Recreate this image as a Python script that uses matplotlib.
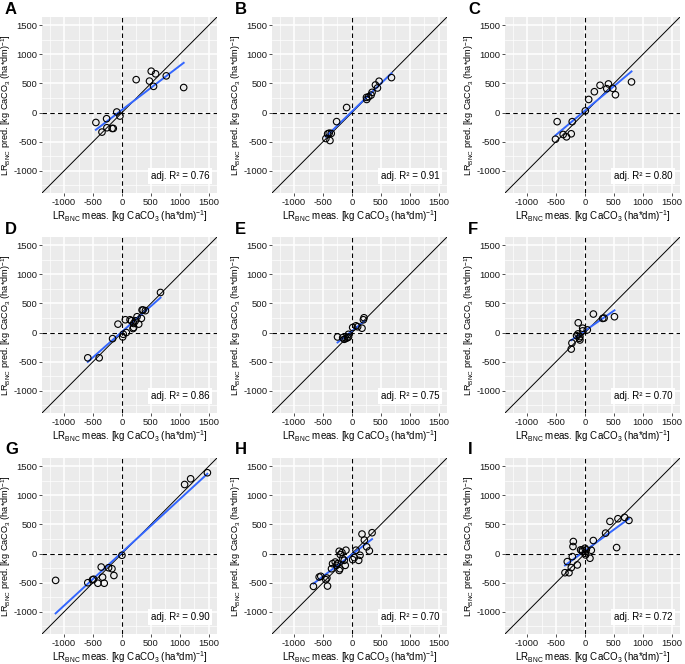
import matplotlib
matplotlib.use("Agg")
import matplotlib.pyplot as plt
import numpy as np
from matplotlib.ticker import MultipleLocator

plt.rcParams["font.family"] = ["Liberation Sans", "DejaVu Sans"]
plt.rcParams["mathtext.default"] = "regular"
plt.rcParams["axes.unicode_minus"] = False

a_x = [-450, -265, -345, -260, -170, -150, -90, -35, 245, 505, 580, 475, 545, 765, 1065]
a_y = [-170, -105, -335, -260, -272, -272, 10, -60, 565, 710, 665, 540, 450, 630, 430]

b_x = [-450, -420, -393, -358, -380, -265, -92, 250, 254, 289, 330, 347, 405, 440, 468, 682]
b_y = [-445, -365, -353, -358, -480, -155, 87, 260, 225, 272, 300, 347, 474, 422, 538, 600]

c_x = [-509, -480, -376, -318, -237, -220, 6, 64, 162, 260, 405, 376, 480, 526, 803]
c_y = [-457, -156, -376, -416, -364, -156, 29, 225, 358, 468, 491, 410, 416, 306, 526]

d_x = [-590, -393, -162, -69, 12, 23, 75, 58, 139, 162, 202, 191, 202, 231, 260, 289, 335, 347, 364, 405, 665]
d_y = [-433, -433, -104, 145, -75, -29, 0, 220, 220, 202, 156, 69, 87, 202, 272, 145, 243, 387, 387, 376, 688]

e_x = [-249, -160, -133, -104, -75, -58, -60, 12, 69, 98, 173, 197, 208]
e_y = [-75, -87, -115, -100, -87, -75, -30, 87, 116, 100, 75, 220, 254]

f_x = [-237, -225, -116, -145, -121, -87, -98, -87, -40, -40, 40, 145, 306, 330, 509]
f_y = [-283, -179, 168, -52, -23, -69, -98, -127, 75, 29, 46, 318, 243, 249, 272]

g_x = [-1145, -590, -509, -490, -416, -358, -335, -306, -231, -173, -139, 0, 1081, 1185, 1474]
g_y = [-460, -500, -450, -440, -509, -231, -405, -509, -243, -260, -376, -29, 1185, 1283, 1387]

h_x = [-665, -566, -538, -451, -433, -422, -353, -335, -289, -266, -249, -220, -208, -220, -202,
       -173, -162, -116, -104, -133, 12, 40, 69, 116, 139, 173, 214, 254, 300, 347]
h_y = [-563, -402, -390, -448, -420, -557, -260, -173, -145, -202, -173, -289, -260, 40, -17,
       17, -87, -202, 58, -116, -104, -69, 58, -116, -29, 335, 231, 116, 46, 358]

i_x = [-345, -276, -305, -236, -218, -201, -207, -132, -75, -46, -46, 0, 11, 23, 0,
       86, 109, 144, 356, 431, 569, 684, 759, 546]
i_y = [-328, -328, -138, -241, -52, 207, 121, -195, 63, 63, 35, 92, -23, 63, 6,
       -80, 57, 224, 351, 552, 598, 621, 569, 103]

panel_letters = ["A", "B", "C", "D", "E", "F", "G", "H", "I"]
adj_r2 = ["0.76", "0.91", "0.80", "0.86", "0.75", "0.70", "0.90", "0.70", "0.72"]
ticks = [-1000, -500, 0, 500, 1000, 1500]

xs = [a_x, b_x, c_x, d_x, e_x, f_x, g_x, h_x, i_x]
ys = [a_y, b_y, c_y, d_y, e_y, f_y, g_y, h_y, i_y]

W, H = 685, 664
fig = plt.figure(figsize=(W / 100, H / 100), dpi=100)

lefts = [42, 272, 505]
tops = [17, 237, 458]
aw, ah = 175, 176
lim = (-1380, 1640)

xlab = r"LR$_{\mathregular{BNC}}$ meas. [kg CaCO$_3$ (ha*dm)$^{-1}$]"
ylab = r"LR$_{\mathregular{BNC}}$ pred. [kg CaCO$_3$ (ha*dm)$^{-1}$]"

for k in range(9):
    r, c = divmod(k, 3)
    x0, y0 = lefts[c], tops[r]
    ax = fig.add_axes([x0 / W, 1 - (y0 + ah) / H, aw / W, ah / H])
    ax.set_facecolor("#EBEBEB")
    for s in ax.spines.values():
        s.set_visible(False)
    ax.set_xlim(lim)
    ax.set_ylim(lim)
    ax.xaxis.set_minor_locator(MultipleLocator(250))
    ax.yaxis.set_minor_locator(MultipleLocator(250))
    ax.set_xticks(ticks)
    ax.set_yticks(ticks)
    ax.grid(which="major", color="white", lw=1.1)
    ax.grid(which="minor", color="white", lw=0.5)
    ax.set_axisbelow(True)
    ax.tick_params(which="minor", length=0)
    ax.tick_params(which="major", length=2.2, width=0.6, color="#333333",
                   labelsize=6.8, labelcolor="#1a1a1a", pad=1.2)

    ax.plot(lim, lim, color="black", lw=0.7, zorder=2)
    ax.axhline(0, color="black", lw=0.8, ls=(0, (4, 3)), zorder=2)
    ax.axvline(0, color="black", lw=0.8, ls=(0, (4, 3)), zorder=2)

    x = np.array(xs[k], dtype=float)
    y = np.array(ys[k], dtype=float)
    slope, icpt = np.polyfit(x, y, 1)
    xx = np.array([x.min(), x.max()])
    ax.plot(xx, slope * xx + icpt, color="#3366FF", lw=1.4, zorder=3)
    ax.scatter(x, y, s=22, facecolors="none", edgecolors="black", linewidths=0.8, zorder=4)

    ax.text(0.955, 0.097, f"adj. R² = {adj_r2[k]}", transform=ax.transAxes,
            ha="right", va="center", fontsize=7,
            bbox=dict(facecolor="white", edgecolor="none", pad=2.0), zorder=5)

    ax.set_xlabel(xlab, fontsize=7, labelpad=1)
    ax.set_ylabel(ylab, fontsize=6.6, va="center")
    ax.yaxis.set_label_coords(-35.5 / aw, 0.5)

    fig.text((x0 - 37) / W, 1 - (y0 - 8) / H, panel_letters[k], fontsize=12,
             fontweight="bold", ha="left", va="center")

fig.savefig("out.png", dpi=100)
